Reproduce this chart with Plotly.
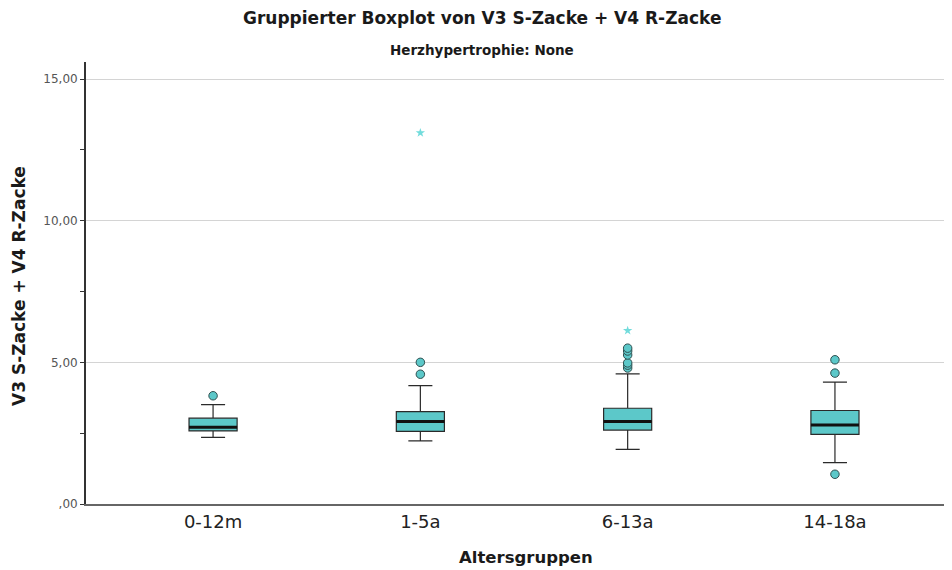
import plotly.graph_objects as go

categories = ["0-12m", "1-5a", "6-13a", "14-18a"]
q1 = [2.58, 2.56, 2.61, 2.46]
median = [2.71, 2.91, 2.91, 2.79]
q3 = [3.03, 3.26, 3.38, 3.30]
lower_whisker = [2.35, 2.23, 1.93, 1.46]
upper_whisker = [3.51, 4.18, 4.59, 4.30]
outliers = [[3.82], [4.58, 5.0], [4.80, 4.90, 4.98, 5.26, 5.40, 5.50], [1.05, 4.62, 5.09]]
extremes = [[], [13.1], [6.12], []]
yticks = [0, 5, 10, 15]
yticktext = [",00", "5,00", "10,00", "15,00"]

FILL = "#5cc8c9"
EDGE = "#2a2a2a"
BOX_W = 0.232
FONT = "DejaVu Sans, Verdana, sans-serif"

# page body has an 8px default margin; figure coordinates below are page - 8
L, R, T, B = 78, 10, 54, 74
W, H = 952, 570
PW, PH = W - L - R, H - T - B

fig = go.Figure()
for i, c in enumerate(categories):
    fig.add_trace(go.Box(
        x=[i], q1=[q1[i]], median=[median[i]], q3=[q3[i]],
        lowerfence=[lower_whisker[i]], upperfence=[upper_whisker[i]],
        width=BOX_W, whiskerwidth=0.5, fillcolor=FILL,
        line=dict(color=EDGE, width=1.2), boxpoints=False,
        showlegend=False, hoverinfo="skip"))
    fig.add_shape(type="line", xref="x", yref="y",
                  x0=i - BOX_W / 2, x1=i + BOX_W / 2, y0=median[i], y1=median[i],
                  line=dict(color="#111111", width=3))
    if outliers[i]:
        fig.add_trace(go.Scatter(
            x=[i] * len(outliers[i]), y=outliers[i], mode="markers",
            marker=dict(symbol="circle", size=8.5, color=FILL,
                        line=dict(color="#2f4f4f", width=1)),
            showlegend=False, hoverinfo="skip"))
    if extremes[i]:
        fig.add_trace(go.Scatter(
            x=[i] * len(extremes[i]), y=extremes[i], mode="markers",
            marker=dict(symbol="star", size=7, color="#72dcdc", line=dict(width=0)),
            showlegend=False, hoverinfo="skip"))

def px_x(x):
    return (x - L) / PW

def px_y(y):
    return (T + PH - y) / PH

fig.update_layout(
    width=W, height=H,
    margin=dict(l=L, r=R, t=T, b=B),
    paper_bgcolor="white", plot_bgcolor="white",
    font=dict(family=FONT, color="#222222"),
    annotations=[
        dict(text="<b>Gruppierter Boxplot von V3 S-Zacke + V4 R-Zacke</b>", xref="paper", yref="paper",
             x=px_x(474), y=px_y(10), xanchor="center", yanchor="middle",
             showarrow=False, font=dict(size=17, color="#1a1a1a")),
        dict(text="<b>Herzhypertrophie: None</b>", xref="paper", yref="paper",
             x=px_x(474), y=px_y(42), xanchor="center", yanchor="middle",
             showarrow=False, font=dict(size=13.5, color="#1a1a1a")),
        dict(text="<b>Altersgruppen</b>", xref="paper", yref="paper",
             x=px_x(518), y=px_y(549), xanchor="center", yanchor="middle",
             showarrow=False, font=dict(size=16.5, color="#1a1a1a")),
        dict(text="<b>V3 S-Zacke + V4 R-Zacke</b>", xref="paper", yref="paper",
             x=px_x(11), y=px_y(278), xanchor="center", yanchor="middle", textangle=-90,
             showarrow=False, font=dict(size=17, color="#1a1a1a")),
    ],
)
fig.update_xaxes(
    range=[-0.613, 3.555], tickvals=list(range(len(categories))), ticktext=categories,
    showgrid=False, zeroline=False, showline=True, linecolor="#666666", linewidth=2,
    ticks="", tickfont=dict(size=18, color="#222222"),
)
fig.update_yaxes(
    range=[0, 15.6], tickvals=yticks, ticktext=yticktext,
    showgrid=True, gridcolor="#d4d4d4", gridwidth=1, zeroline=False,
    showline=True, linecolor="#333333", linewidth=1.8,
    ticks="outside", ticklen=4, tickcolor="#333333",
    minor=dict(tickvals=[2.5, 7.5, 12.5], ticks="outside", ticklen=4, tickcolor="#333333", showgrid=False),
    tickfont=dict(size=12, color="#555555"),
)

fig.write_html("out.html")
